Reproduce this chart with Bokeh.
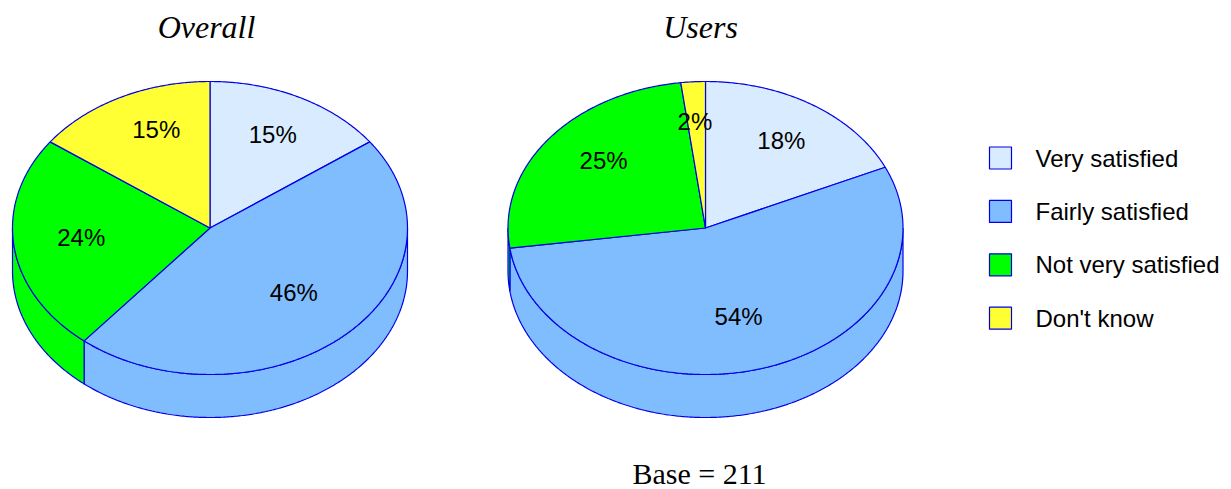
import numpy as np
from bokeh.plotting import figure
from bokeh.models import Range1d
from bokeh.core.properties import value
from bokeh.embed import file_html
from bokeh.resources import INLINE

categories = ["Very satisfied", "Fairly satisfied", "Not very satisfied", "Don't know"]
overall_values = [15.0, 46.0, 24.0, 15.0]
users_values = [18.2, 54.6, 25.2, 2.0]
overall_labels = ["15%", "46%", "24%", "15%"]
users_labels = ["18%", "54%", "25%", "2%"]
titles = ["Overall", "Users"]
base_note = "Base = 211"

COLORS = ["#D9EBFF", "#80BDFF", "#00FF00", "#FFFF33"]
EDGE = "#0000E6"
W, H = 1231, 489
RX, RY, DEPTH = 197.5, 146.5, 43
SANS = value("Liberation Sans")
SERIF = value("Liberation Serif")

p = figure(width=W, height=H, output_backend="svg", toolbar_location=None,
           x_range=Range1d(0, W), y_range=Range1d(H, 0), min_border=0)
p.axis.visible = False
p.grid.visible = False
p.outline_line_color = None


def arc(cx, cy, a0, a1):
    t = np.radians(np.linspace(a0, a1, max(int(abs(a1 - a0) * 2), 2) + 1))
    return cx + RX * np.sin(t), cy - RY * np.cos(t)


def draw_pie(cx, cy, vals, labels, fx, fy):
    edges = np.cumsum([0.0] + list(vals)) / sum(vals) * 360
    # side wall: only the front half (90..270 degrees) is visible
    for i in range(len(vals)):
        a0, a1 = max(edges[i], 90), min(edges[i + 1], 270)
        if a1 <= a0:
            continue
        x, y = arc(cx, cy, a0, a1)
        xs = list(x) + list(x[::-1])
        ys = list(y) + list((y + DEPTH)[::-1])
        p.patch(xs, ys, fill_color=COLORS[i], line_color=EDGE, line_width=1.2)
    # top face
    for i in range(len(vals)):
        x, y = arc(cx, cy, edges[i], edges[i + 1])
        p.patch([cx] + list(x), [cy] + list(y), fill_color=COLORS[i],
                line_color=EDGE, line_width=1.2)
    # labels
    for i, lab in enumerate(labels):
        mid = np.radians((edges[i] + edges[i + 1]) / 2)
        p.text([cx + RX * fx[i] * np.sin(mid)], [cy - RY * fy[i] * np.cos(mid)], text=[lab],
               text_font=SANS, text_font_size="24px", text_color="black",
               text_align="center", text_baseline="middle")


draw_pie(209.5, 227.5, overall_values, overall_labels,
         [0.70, 0.62, 0.657, 0.60], [0.717, 0.607, 0.5, 0.755])
draw_pie(705, 227.5, users_values, users_labels,
         [0.71, 0.60, 0.65, 0.85], [0.71, 0.63, 0.76, 0.73])

# titles and note
for tx, t in zip([206, 700], titles):
    p.text([tx], [26.5], text=[t], text_font=SERIF, text_font_size="32px",
           text_font_style="italic", text_color="black",
           text_align="center", text_baseline="middle")
p.text([699], [473], text=[base_note], text_font=SERIF, text_font_size="30px",
       text_color="black", text_align="center", text_baseline="middle")

# legend
for i, (c, name) in enumerate(zip(COLORS, categories)):
    ly = 157.5 + i * 53.4
    p.rect([1000], [ly], width=22, height=22, fill_color=c, line_color=EDGE, line_width=1.2)
    p.text([1035], [ly], text=[name], text_font=SANS, text_font_size="24px",
           text_color="black", text_align="left", text_baseline="middle")

open("out.html", "w").write(file_html(p, INLINE))
